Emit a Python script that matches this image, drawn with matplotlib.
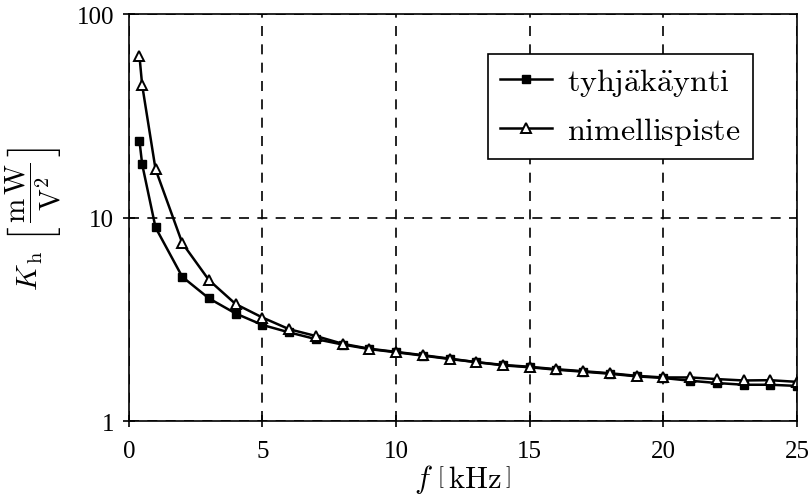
import numpy as np
import matplotlib
matplotlib.use("Agg")
import matplotlib.pyplot as plt

plt.rcParams['font.family'] = ['Liberation Serif', 'DejaVu Serif']
plt.rcParams['mathtext.fontset'] = 'cm'

# frequency [kHz]
f_khz = [0.4, 0.5, 1, 2, 3, 4, 5, 6, 7, 8, 9, 10, 11, 12, 13, 14, 15,
         16, 17, 18, 19, 20, 21, 22, 23, 24, 25]
# tyhjakaynti (no-load)
kh_noload = [23.8, 18.3, 8.95, 5.12, 4.01, 3.38, 2.97, 2.73, 2.53, 2.38, 2.26,
             2.18, 2.10, 2.02, 1.95, 1.88, 1.84, 1.79, 1.75, 1.71, 1.66, 1.63,
             1.58, 1.54, 1.51, 1.51, 1.49]
# nimellispiste (rated point)
kh_rated = [62.0, 44.8, 17.3, 7.5, 4.93, 3.76, 3.23, 2.83, 2.62, 2.40, 2.27,
            2.19, 2.11, 2.03, 1.95, 1.89, 1.85, 1.80, 1.76, 1.72, 1.67, 1.64,
            1.64, 1.61, 1.585, 1.59, 1.56]

fig = plt.figure(figsize=(8.1, 5.02), dpi=100)
ax = fig.add_axes([0.159, 0.159, 0.825, 0.811])

ax.plot(f_khz, kh_noload, color='black', lw=1.8, marker='s', ms=5.5,
        mfc='black', mec='black', label=r'$\mathrm{tyhj\ddot{a}k\ddot{a}ynti}$')
ax.plot(f_khz, kh_rated, color='black', lw=1.8, marker='^', ms=7,
        mfc='white', mec='black', mew=1.4, label=r'$\mathrm{nimellispiste}$')

ax.set_yscale('log')
ax.set_xlim(0, 25)
ax.set_ylim(1, 100)
ax.set_xticks([0, 5, 10, 15, 20, 25])
ax.set_yticks([1, 10, 100])
ax.set_yticklabels(['1', '10', '100'])
ax.yaxis.set_minor_locator(matplotlib.ticker.NullLocator())

ax.tick_params(direction='inout', length=9, width=1.2, labelsize=18)
ax.tick_params(axis='x', pad=9)
ax.tick_params(axis='y', pad=6)

ax.grid(True, which='major', color='black', ls=(0, (6, 5)), lw=1.2)
for sp in ax.spines.values():
    sp.set_linewidth(1.2)

ax.set_xlabel(r'$f\ \left[\,\mathrm{kHz}\,\right]$', fontsize=22, labelpad=0)
ax.set_ylabel(r'$K_{\,\mathrm{h}}\ \left[\,\dfrac{\mathrm{m\,W}}{\mathrm{V}^{2}}\,\right]$',
              fontsize=21, labelpad=9)

leg = ax.legend(loc='upper right', bbox_to_anchor=(0.934, 0.902), fontsize=23,
                frameon=True, fancybox=False, edgecolor='black', framealpha=1,
                handlelength=1.6, handletextpad=0.5, borderpad=0.38,
                labelspacing=0.52, borderaxespad=0)
leg.get_frame().set_linewidth(1.2)

fig.savefig('out.png', dpi=100)
